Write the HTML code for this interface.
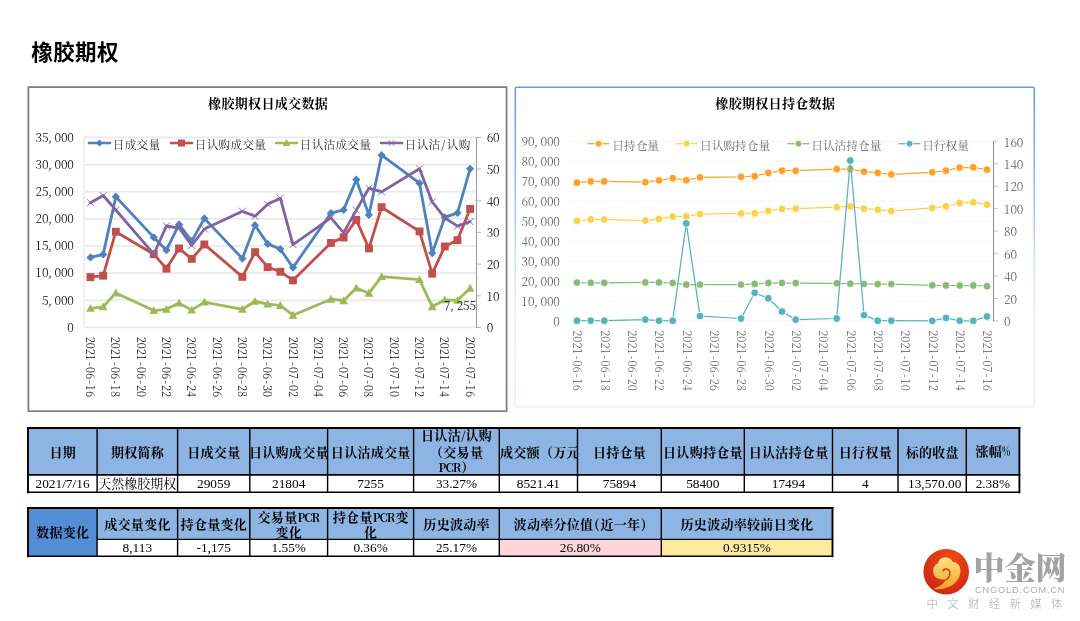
<!DOCTYPE html><html lang="zh-CN"><head><meta charset="utf-8"><title>橡胶期权</title><style>
html,body{margin:0;padding:0;background:#fff}
body{width:1080px;height:621px;position:relative;overflow:hidden;font-family:"Liberation Serif","Noto Serif CJK SC",serif}
.cv{position:absolute;left:0;top:0}
h1{position:absolute;left:31.2px;top:37.6px;margin:0;font:700 21.5px/30px "Liberation Sans","Noto Sans CJK SC",sans-serif;color:#000;letter-spacing:0.45px}
.n1{font-family:"Noto Serif CJK SC","Liberation Serif",serif;font-weight:300;font-size:12px;fill:#000}
.n2{font-family:"Noto Serif CJK SC","Liberation Serif",serif;font-weight:300;font-size:12px;fill:#595959}
.c{position:absolute;box-sizing:border-box;border:0;padding:0 0.7px;overflow:hidden;display:flex;align-items:center;justify-content:center;text-align:center;white-space:nowrap;color:#000}
.h{background:#8db4e2;font:700 13px/15.6px "Noto Serif CJK SC","Liberation Serif",serif}
.h2{background:#8db4e2;font:700 13px/14.6px "Noto Serif CJK SC","Liberation Serif",serif}
.hd{background:#538dd5;padding-top:0 !important}
.h2{padding-top:2px}
.t{display:block}
.h .t,.h2 .t{letter-spacing:0.3px;margin-right:-0.3px}
.lt{font-size:11.5px;letter-spacing:-0.9px;margin-right:0.9px}
.pc{display:inline-block;font-size:12.5px;letter-spacing:0;transform:scaleX(.68);transform-origin:0 50%;margin-right:-3.6px}
.lp{display:inline-block;width:7px;text-align:center}
.v{background:#fff;font:13.33px/16px "Liberation Serif","Noto Serif CJK SC",serif}
.l{justify-content:flex-start}
.pk{background:#fdd5da}.yl{background:#fdeb9e}

</style></head><body>
<h1>橡胶期权</h1>
<svg class="cv" width="1080" height="621" viewBox="0 0 1080 621">
<rect x="28.4" y="87.1" width="478.2" height="324.1" fill="#fff" stroke="#7a7a7a" stroke-width="1.7"/>
<text x="268.1" y="108" text-anchor="middle" font-family='"Noto Serif CJK SC","Liberation Serif",serif' font-weight="700" font-size="13" letter-spacing="0.33" fill="#000">橡胶期权日成交数据</text>
<line x1="84" x2="477" y1="327.4" y2="327.4" stroke="#e9e9e9" stroke-width="1.7"/>
<line x1="84" x2="477" y1="300.3" y2="300.3" stroke="#e9e9e9" stroke-width="1.7"/>
<line x1="84" x2="477" y1="273.1" y2="273.1" stroke="#e9e9e9" stroke-width="1.7"/>
<line x1="84" x2="477" y1="246.0" y2="246.0" stroke="#e9e9e9" stroke-width="1.7"/>
<line x1="84" x2="477" y1="218.8" y2="218.8" stroke="#e9e9e9" stroke-width="1.7"/>
<line x1="84" x2="477" y1="191.7" y2="191.7" stroke="#e9e9e9" stroke-width="1.7"/>
<line x1="84" x2="477" y1="164.6" y2="164.6" stroke="#e9e9e9" stroke-width="1.7"/>
<line x1="84" x2="477" y1="137.4" y2="137.4" stroke="#e9e9e9" stroke-width="1.7"/>
<line x1="84.1" x2="84.1" y1="136.5" y2="328" stroke="#f0f0f0" stroke-width="2.1"/>
<line x1="476.5" x2="476.5" y1="137" y2="328" stroke="#9a9a9a" stroke-width="1"/>
<line x1="477" x2="481" y1="327.4" y2="327.4" stroke="#b5b5b5" stroke-width="1"/>
<line x1="477" x2="481" y1="295.8" y2="295.8" stroke="#b5b5b5" stroke-width="1"/>
<line x1="477" x2="481" y1="264.1" y2="264.1" stroke="#b5b5b5" stroke-width="1"/>
<line x1="477" x2="481" y1="232.4" y2="232.4" stroke="#b5b5b5" stroke-width="1"/>
<line x1="477" x2="481" y1="200.8" y2="200.8" stroke="#b5b5b5" stroke-width="1"/>
<line x1="477" x2="481" y1="169.1" y2="169.1" stroke="#b5b5b5" stroke-width="1"/>
<line x1="477" x2="481" y1="137.4" y2="137.4" stroke="#b5b5b5" stroke-width="1"/>
<text class="n1" x="67.3" y="331.8">0</text>
<text class="n1" x="42.0 48.0 54.6 60.9 67.3" y="304.6">5,000</text>
<text class="n1" x="35.6 41.9 48.0 54.6 60.9 67.3" y="277.4">10,000</text>
<text class="n1" x="35.6 41.9 48.0 54.6 60.9 67.3" y="250.3">15,000</text>
<text class="n1" x="35.6 41.9 48.0 54.6 60.9 67.3" y="223.2">20,000</text>
<text class="n1" x="35.6 41.9 48.0 54.6 60.9 67.3" y="196.0">25,000</text>
<text class="n1" x="35.6 41.9 48.0 54.6 60.9 67.3" y="168.9">30,000</text>
<text class="n1" x="35.6 41.9 48.0 54.6 60.9 67.3" y="141.7">35,000</text>
<text class="n1" x="486.8" y="332.4">0</text>
<text class="n1" x="486.8 493.1" y="300.8">10</text>
<text class="n1" x="486.8 493.1" y="269.1">20</text>
<text class="n1" x="486.8 493.1" y="237.4">30</text>
<text class="n1" x="486.8 493.1" y="205.8">40</text>
<text class="n1" x="486.8 493.1" y="174.1">50</text>
<text class="n1" x="486.8 493.1" y="142.4">60</text>
<text class="n1" transform="translate(86.0,336.8) rotate(90) scale(0.93,1)" x="-0.1 6.4 12.9 19.4 27.2 32.4 38.9 46.7 51.9 58.4">2021-06-16</text>
<text class="n1" transform="translate(111.3,336.8) rotate(90) scale(0.93,1)" x="-0.1 6.4 12.9 19.4 27.2 32.4 38.9 46.7 51.9 58.4">2021-06-18</text>
<text class="n1" transform="translate(136.6,336.8) rotate(90) scale(0.93,1)" x="-0.1 6.4 12.9 19.4 27.2 32.4 38.9 46.7 51.9 58.4">2021-06-20</text>
<text class="n1" transform="translate(161.9,336.8) rotate(90) scale(0.93,1)" x="-0.1 6.4 12.9 19.4 27.2 32.4 38.9 46.7 51.9 58.4">2021-06-22</text>
<text class="n1" transform="translate(187.2,336.8) rotate(90) scale(0.93,1)" x="-0.1 6.4 12.9 19.4 27.2 32.4 38.9 46.7 51.9 58.4">2021-06-24</text>
<text class="n1" transform="translate(212.6,336.8) rotate(90) scale(0.93,1)" x="-0.1 6.4 12.9 19.4 27.2 32.4 38.9 46.7 51.9 58.4">2021-06-26</text>
<text class="n1" transform="translate(237.9,336.8) rotate(90) scale(0.93,1)" x="-0.1 6.4 12.9 19.4 27.2 32.4 38.9 46.7 51.9 58.4">2021-06-28</text>
<text class="n1" transform="translate(263.2,336.8) rotate(90) scale(0.93,1)" x="-0.1 6.4 12.9 19.4 27.2 32.4 38.9 46.7 51.9 58.4">2021-06-30</text>
<text class="n1" transform="translate(288.5,336.8) rotate(90) scale(0.93,1)" x="-0.1 6.4 12.9 19.4 27.2 32.4 38.9 46.7 51.9 58.4">2021-07-02</text>
<text class="n1" transform="translate(313.8,336.8) rotate(90) scale(0.93,1)" x="-0.1 6.4 12.9 19.4 27.2 32.4 38.9 46.7 51.9 58.4">2021-07-04</text>
<text class="n1" transform="translate(339.1,336.8) rotate(90) scale(0.93,1)" x="-0.1 6.4 12.9 19.4 27.2 32.4 38.9 46.7 51.9 58.4">2021-07-06</text>
<text class="n1" transform="translate(364.4,336.8) rotate(90) scale(0.93,1)" x="-0.1 6.4 12.9 19.4 27.2 32.4 38.9 46.7 51.9 58.4">2021-07-08</text>
<text class="n1" transform="translate(389.7,336.8) rotate(90) scale(0.93,1)" x="-0.1 6.4 12.9 19.4 27.2 32.4 38.9 46.7 51.9 58.4">2021-07-10</text>
<text class="n1" transform="translate(415.0,336.8) rotate(90) scale(0.93,1)" x="-0.1 6.4 12.9 19.4 27.2 32.4 38.9 46.7 51.9 58.4">2021-07-12</text>
<text class="n1" transform="translate(440.3,336.8) rotate(90) scale(0.93,1)" x="-0.1 6.4 12.9 19.4 27.2 32.4 38.9 46.7 51.9 58.4">2021-07-14</text>
<text class="n1" transform="translate(465.6,336.8) rotate(90) scale(0.93,1)" x="-0.1 6.4 12.9 19.4 27.2 32.4 38.9 46.7 51.9 58.4">2021-07-16</text>
<polyline points="90.5,257.4 103.2,254.4 115.8,196.7 153.8,237.4 166.4,250.2 179.1,224.4 191.7,241.2 204.4,218.4 242.4,258.6 255.0,225.2 267.7,243.9 280.3,249.1 293.0,267.6 330.9,213.1 343.6,209.9 356.3,179.7 368.9,214.9 381.6,155.2 419.5,183.2 432.2,253.1 444.8,217.4 457.5,212.9 470.1,168.8" fill="none" stroke="#4f81bd" stroke-width="2.8" stroke-linejoin="round" stroke-linecap="round"/>
<path d="M90.5 253.3L94.6 257.4L90.5 261.5L86.4 257.4Z" fill="#4f81bd"/>
<path d="M103.2 250.3L107.3 254.4L103.2 258.5L99.1 254.4Z" fill="#4f81bd"/>
<path d="M115.8 192.6L119.9 196.7L115.8 200.8L111.7 196.7Z" fill="#4f81bd"/>
<path d="M153.8 233.3L157.9 237.4L153.8 241.5L149.7 237.4Z" fill="#4f81bd"/>
<path d="M166.4 246.1L170.5 250.2L166.4 254.3L162.3 250.2Z" fill="#4f81bd"/>
<path d="M179.1 220.3L183.2 224.4L179.1 228.5L175.0 224.4Z" fill="#4f81bd"/>
<path d="M191.7 237.1L195.8 241.2L191.7 245.3L187.6 241.2Z" fill="#4f81bd"/>
<path d="M204.4 214.3L208.5 218.4L204.4 222.5L200.3 218.4Z" fill="#4f81bd"/>
<path d="M242.4 254.5L246.5 258.6L242.4 262.7L238.3 258.6Z" fill="#4f81bd"/>
<path d="M255.0 221.1L259.1 225.2L255.0 229.3L250.9 225.2Z" fill="#4f81bd"/>
<path d="M267.7 239.8L271.8 243.9L267.7 248.0L263.6 243.9Z" fill="#4f81bd"/>
<path d="M280.3 245.0L284.4 249.1L280.3 253.2L276.2 249.1Z" fill="#4f81bd"/>
<path d="M293.0 263.5L297.1 267.6L293.0 271.7L288.9 267.6Z" fill="#4f81bd"/>
<path d="M330.9 209.0L335.0 213.1L330.9 217.2L326.8 213.1Z" fill="#4f81bd"/>
<path d="M343.6 205.8L347.7 209.9L343.6 214.0L339.5 209.9Z" fill="#4f81bd"/>
<path d="M356.3 175.6L360.4 179.7L356.3 183.8L352.2 179.7Z" fill="#4f81bd"/>
<path d="M368.9 210.8L373.0 214.9L368.9 219.0L364.8 214.9Z" fill="#4f81bd"/>
<path d="M381.6 151.1L385.7 155.2L381.6 159.3L377.5 155.2Z" fill="#4f81bd"/>
<path d="M419.5 179.1L423.6 183.2L419.5 187.3L415.4 183.2Z" fill="#4f81bd"/>
<path d="M432.2 249.0L436.3 253.1L432.2 257.2L428.1 253.1Z" fill="#4f81bd"/>
<path d="M444.8 213.3L448.9 217.4L444.8 221.5L440.7 217.4Z" fill="#4f81bd"/>
<path d="M457.5 208.8L461.6 212.9L457.5 217.0L453.4 212.9Z" fill="#4f81bd"/>
<path d="M470.1 164.7L474.2 168.8L470.1 172.9L466.0 168.8Z" fill="#4f81bd"/>
<polyline points="90.5,277.1 103.2,275.6 115.8,231.7 153.8,254.2 166.4,268.6 179.1,248.4 191.7,258.9 204.4,244.4 242.4,276.9 255.0,252.2 267.7,267.1 280.3,271.7 293.0,280.3 330.9,242.9 343.6,237.4 356.3,219.9 368.9,248.4 381.6,207.2 419.5,231.4 432.2,273.6 444.8,246.4 457.5,240.1 470.1,208.9" fill="none" stroke="#c0504d" stroke-width="2.8" stroke-linejoin="round" stroke-linecap="round"/>
<rect x="86.5" y="273.2" width="7.9" height="7.9" fill="#c0504d"/>
<rect x="99.2" y="271.7" width="7.9" height="7.9" fill="#c0504d"/>
<rect x="111.9" y="227.8" width="7.9" height="7.9" fill="#c0504d"/>
<rect x="149.8" y="250.2" width="7.9" height="7.9" fill="#c0504d"/>
<rect x="162.5" y="264.7" width="7.9" height="7.9" fill="#c0504d"/>
<rect x="175.1" y="244.5" width="7.9" height="7.9" fill="#c0504d"/>
<rect x="187.8" y="254.9" width="7.9" height="7.9" fill="#c0504d"/>
<rect x="200.4" y="240.5" width="7.9" height="7.9" fill="#c0504d"/>
<rect x="238.4" y="272.9" width="7.9" height="7.9" fill="#c0504d"/>
<rect x="251.1" y="248.2" width="7.9" height="7.9" fill="#c0504d"/>
<rect x="263.7" y="263.2" width="7.9" height="7.9" fill="#c0504d"/>
<rect x="276.4" y="267.8" width="7.9" height="7.9" fill="#c0504d"/>
<rect x="289.0" y="276.4" width="7.9" height="7.9" fill="#c0504d"/>
<rect x="327.0" y="239.0" width="7.9" height="7.9" fill="#c0504d"/>
<rect x="339.7" y="233.5" width="7.9" height="7.9" fill="#c0504d"/>
<rect x="352.3" y="216.0" width="7.9" height="7.9" fill="#c0504d"/>
<rect x="365.0" y="244.5" width="7.9" height="7.9" fill="#c0504d"/>
<rect x="377.6" y="203.2" width="7.9" height="7.9" fill="#c0504d"/>
<rect x="415.6" y="227.5" width="7.9" height="7.9" fill="#c0504d"/>
<rect x="428.2" y="269.7" width="7.9" height="7.9" fill="#c0504d"/>
<rect x="440.9" y="242.5" width="7.9" height="7.9" fill="#c0504d"/>
<rect x="453.5" y="236.2" width="7.9" height="7.9" fill="#c0504d"/>
<rect x="466.2" y="205.0" width="7.9" height="7.9" fill="#c0504d"/>
<polyline points="90.5,308.3 103.2,306.8 115.8,292.9 153.8,310.6 166.4,309.3 179.1,303.1 191.7,310.1 204.4,302.1 242.4,309.3 255.0,301.3 267.7,304.1 280.3,305.4 293.0,315.2 330.9,299.2 343.6,300.7 356.3,288.1 368.9,293.2 381.6,276.6 419.5,279.6 432.2,306.7 444.8,299.8 457.5,300.3 470.1,288.2" fill="none" stroke="#9bbb59" stroke-width="2.8" stroke-linejoin="round" stroke-linecap="round"/>
<path d="M90.5 303.9L94.9 311.8L86.1 311.8Z" fill="#9bbb59"/>
<path d="M103.2 302.4L107.6 310.3L98.8 310.3Z" fill="#9bbb59"/>
<path d="M115.8 288.5L120.2 296.4L111.4 296.4Z" fill="#9bbb59"/>
<path d="M153.8 306.2L158.2 314.1L149.4 314.1Z" fill="#9bbb59"/>
<path d="M166.4 304.9L170.8 312.8L162.0 312.8Z" fill="#9bbb59"/>
<path d="M179.1 298.7L183.5 306.6L174.7 306.6Z" fill="#9bbb59"/>
<path d="M191.7 305.7L196.1 313.6L187.3 313.6Z" fill="#9bbb59"/>
<path d="M204.4 297.7L208.8 305.6L200.0 305.6Z" fill="#9bbb59"/>
<path d="M242.4 304.9L246.8 312.8L238.0 312.8Z" fill="#9bbb59"/>
<path d="M255.0 296.9L259.4 304.8L250.6 304.8Z" fill="#9bbb59"/>
<path d="M267.7 299.7L272.1 307.6L263.3 307.6Z" fill="#9bbb59"/>
<path d="M280.3 301.0L284.7 308.9L275.9 308.9Z" fill="#9bbb59"/>
<path d="M293.0 310.8L297.4 318.7L288.6 318.7Z" fill="#9bbb59"/>
<path d="M330.9 294.8L335.3 302.7L326.5 302.7Z" fill="#9bbb59"/>
<path d="M343.6 296.3L348.0 304.2L339.2 304.2Z" fill="#9bbb59"/>
<path d="M356.3 283.7L360.7 291.6L351.9 291.6Z" fill="#9bbb59"/>
<path d="M368.9 288.8L373.3 296.7L364.5 296.7Z" fill="#9bbb59"/>
<path d="M381.6 272.2L386.0 280.1L377.2 280.1Z" fill="#9bbb59"/>
<path d="M419.5 275.2L423.9 283.1L415.1 283.1Z" fill="#9bbb59"/>
<path d="M432.2 302.3L436.6 310.2L427.8 310.2Z" fill="#9bbb59"/>
<path d="M444.8 295.4L449.2 303.3L440.4 303.3Z" fill="#9bbb59"/>
<path d="M457.5 295.9L461.9 303.8L453.1 303.8Z" fill="#9bbb59"/>
<path d="M470.1 283.8L474.5 291.7L465.8 291.7Z" fill="#9bbb59"/>
<polyline points="90.5,202.7 103.2,195.5 115.8,210.0 153.8,254.2 166.4,226.0 179.1,228.0 191.7,245.5 204.4,229.0 242.4,211.2 255.0,216.2 267.7,204.2 280.3,198.2 293.0,244.6 330.9,217.9 343.6,232.6 356.3,210.1 368.9,188.2 381.6,191.9 419.5,168.7 432.2,201.9 444.8,217.9 457.5,226.1 470.1,221.7" fill="none" stroke="#8064a2" stroke-width="2.8" stroke-linejoin="round" stroke-linecap="round"/>
<path d="M87.0 199.2L94.0 206.2M87.0 206.2L94.0 199.2" stroke="#8064a2" stroke-width="0.9" fill="none"/>
<path d="M99.7 192.0L106.7 199.0M99.7 199.0L106.7 192.0" stroke="#8064a2" stroke-width="0.9" fill="none"/>
<path d="M112.3 206.5L119.3 213.5M112.3 213.5L119.3 206.5" stroke="#8064a2" stroke-width="0.9" fill="none"/>
<path d="M150.3 250.7L157.3 257.7M150.3 257.7L157.3 250.7" stroke="#8064a2" stroke-width="0.9" fill="none"/>
<path d="M162.9 222.5L169.9 229.5M162.9 229.5L169.9 222.5" stroke="#8064a2" stroke-width="0.9" fill="none"/>
<path d="M175.6 224.5L182.6 231.5M175.6 231.5L182.6 224.5" stroke="#8064a2" stroke-width="0.9" fill="none"/>
<path d="M188.2 242.0L195.2 249.0M188.2 249.0L195.2 242.0" stroke="#8064a2" stroke-width="0.9" fill="none"/>
<path d="M200.9 225.5L207.9 232.5M200.9 232.5L207.9 225.5" stroke="#8064a2" stroke-width="0.9" fill="none"/>
<path d="M238.9 207.7L245.9 214.7M238.9 214.7L245.9 207.7" stroke="#8064a2" stroke-width="0.9" fill="none"/>
<path d="M251.5 212.7L258.5 219.7M251.5 219.7L258.5 212.7" stroke="#8064a2" stroke-width="0.9" fill="none"/>
<path d="M264.2 200.7L271.2 207.7M264.2 207.7L271.2 200.7" stroke="#8064a2" stroke-width="0.9" fill="none"/>
<path d="M276.8 194.7L283.8 201.7M276.8 201.7L283.8 194.7" stroke="#8064a2" stroke-width="0.9" fill="none"/>
<path d="M289.5 241.1L296.5 248.1M289.5 248.1L296.5 241.1" stroke="#8064a2" stroke-width="0.9" fill="none"/>
<path d="M327.4 214.4L334.4 221.4M327.4 221.4L334.4 214.4" stroke="#8064a2" stroke-width="0.9" fill="none"/>
<path d="M340.1 229.1L347.1 236.1M340.1 236.1L347.1 229.1" stroke="#8064a2" stroke-width="0.9" fill="none"/>
<path d="M352.8 206.6L359.8 213.6M352.8 213.6L359.8 206.6" stroke="#8064a2" stroke-width="0.9" fill="none"/>
<path d="M365.4 184.7L372.4 191.7M365.4 191.7L372.4 184.7" stroke="#8064a2" stroke-width="0.9" fill="none"/>
<path d="M378.1 188.4L385.1 195.4M378.1 195.4L385.1 188.4" stroke="#8064a2" stroke-width="0.9" fill="none"/>
<path d="M416.0 165.2L423.0 172.2M416.0 172.2L423.0 165.2" stroke="#8064a2" stroke-width="0.9" fill="none"/>
<path d="M428.7 198.4L435.7 205.4M428.7 205.4L435.7 198.4" stroke="#8064a2" stroke-width="0.9" fill="none"/>
<path d="M441.3 214.4L448.3 221.4M441.3 221.4L448.3 214.4" stroke="#8064a2" stroke-width="0.9" fill="none"/>
<path d="M454.0 222.6L461.0 229.6M454.0 229.6L461.0 222.6" stroke="#8064a2" stroke-width="0.9" fill="none"/>
<path d="M466.6 218.2L473.6 225.2M466.6 225.2L473.6 218.2" stroke="#8064a2" stroke-width="0.9" fill="none"/>
<text class="n1" x="444.1 450.1 456.8 463.1 469.4" y="310.2">7,255</text>
<line x1="89.0" x2="110.0" y1="143" y2="143" stroke="#4f81bd" stroke-width="2.6" stroke-linecap="round"/>
<path d="M99.5 139.4L103.1 143.0L99.5 146.6L95.9 143.0Z" fill="#4f81bd"/>
<text x="112.8" y="149.3" font-family='"Noto Serif CJK SC","Liberation Serif",serif' font-weight="300" font-size="11.6" letter-spacing="0.3" fill="#000">日成交量</text>
<line x1="171.0" x2="192.0" y1="143" y2="143" stroke="#c0504d" stroke-width="2.6" stroke-linecap="round"/>
<rect x="178.0" y="139.5" width="7.0" height="7.0" fill="#c0504d"/>
<text x="194.8" y="149.3" font-family='"Noto Serif CJK SC","Liberation Serif",serif' font-weight="300" font-size="11.6" letter-spacing="0.3" fill="#000">日认购成交量</text>
<line x1="276.0" x2="297.0" y1="143" y2="143" stroke="#9bbb59" stroke-width="2.6" stroke-linecap="round"/>
<path d="M286.5 139.1L290.4 146.1L282.6 146.1Z" fill="#9bbb59"/>
<text x="299.8" y="149.3" font-family='"Noto Serif CJK SC","Liberation Serif",serif' font-weight="300" font-size="11.6" letter-spacing="0.3" fill="#000">日认沽成交量</text>
<line x1="381.0" x2="402.0" y1="143" y2="143" stroke="#8064a2" stroke-width="2.6" stroke-linecap="round"/>
<path d="M388.5 140.0L394.5 146.0M388.5 146.0L394.5 140.0" stroke="#8064a2" stroke-width="0.9" fill="none"/>
<text x="404.8" y="149.3" font-family='"Noto Serif CJK SC","Liberation Serif",serif' font-weight="300" font-size="11.6" letter-spacing="0.3" dx="0 0 0 0.8 1.2 0" fill="#000">日认沽/认购</text>
<defs><linearGradient id="bg2" x1="0" y1="0" x2="0" y2="1"><stop offset="0" stop-color="#5b9cf8"/><stop offset="0.26" stop-color="#8ab8f8"/><stop offset="0.45" stop-color="#b5d0f8"/><stop offset="0.52" stop-color="#d0dff8"/><stop offset="0.63" stop-color="#e6e4f8"/><stop offset="0.71" stop-color="#f8e6f6"/><stop offset="1" stop-color="#fde8f4"/></linearGradient></defs>
<rect x="515.3" y="87.3" width="519" height="319.5" rx="1.5" fill="#fff" stroke="url(#bg2)" stroke-width="1.6"/>
<text x="775.3" y="108" text-anchor="middle" font-family='"Noto Serif CJK SC","Liberation Serif",serif' font-weight="700" font-size="13" letter-spacing="0.33" fill="#000">橡胶期权日持仓数据</text>
<line x1="570.5" x2="994" y1="320.9" y2="320.9" stroke="#f5f5f5" stroke-width="1"/>
<line x1="570.5" x2="994" y1="300.9" y2="300.9" stroke="#f5f5f5" stroke-width="1"/>
<line x1="570.5" x2="994" y1="281.0" y2="281.0" stroke="#f5f5f5" stroke-width="1"/>
<line x1="570.5" x2="994" y1="261.0" y2="261.0" stroke="#f5f5f5" stroke-width="1"/>
<line x1="570.5" x2="994" y1="241.1" y2="241.1" stroke="#f5f5f5" stroke-width="1"/>
<line x1="570.5" x2="994" y1="221.1" y2="221.1" stroke="#f5f5f5" stroke-width="1"/>
<line x1="570.5" x2="994" y1="201.2" y2="201.2" stroke="#f5f5f5" stroke-width="1"/>
<line x1="570.5" x2="994" y1="181.2" y2="181.2" stroke="#f5f5f5" stroke-width="1"/>
<line x1="570.5" x2="994" y1="161.3" y2="161.3" stroke="#f5f5f5" stroke-width="1"/>
<line x1="570.5" x2="994" y1="141.3" y2="141.3" stroke="#f5f5f5" stroke-width="1"/>
<line x1="993.5" x2="993.5" y1="141" y2="321.4" stroke="#8c8c8c" stroke-width="1"/>
<line x1="994" x2="998" y1="320.9" y2="320.9" stroke="#c8c8c8" stroke-width="1"/>
<text class="n2" x="1004.1" y="326.1">0</text>
<line x1="994" x2="998" y1="298.5" y2="298.5" stroke="#c8c8c8" stroke-width="1"/>
<text class="n2" x="1004.1 1010.4" y="303.7">20</text>
<line x1="994" x2="998" y1="276.0" y2="276.0" stroke="#c8c8c8" stroke-width="1"/>
<text class="n2" x="1004.1 1010.4" y="281.2">40</text>
<line x1="994" x2="998" y1="253.6" y2="253.6" stroke="#c8c8c8" stroke-width="1"/>
<text class="n2" x="1004.1 1010.4" y="258.8">60</text>
<line x1="994" x2="998" y1="231.1" y2="231.1" stroke="#c8c8c8" stroke-width="1"/>
<text class="n2" x="1004.1 1010.4" y="236.3">80</text>
<line x1="994" x2="998" y1="208.7" y2="208.7" stroke="#c8c8c8" stroke-width="1"/>
<text class="n2" x="1004.1 1010.4 1016.8" y="213.9">100</text>
<line x1="994" x2="998" y1="186.2" y2="186.2" stroke="#c8c8c8" stroke-width="1"/>
<text class="n2" x="1004.1 1010.4 1016.8" y="191.4">120</text>
<line x1="994" x2="998" y1="163.8" y2="163.8" stroke="#c8c8c8" stroke-width="1"/>
<text class="n2" x="1004.1 1010.4 1016.8" y="169.0">140</text>
<line x1="994" x2="998" y1="141.3" y2="141.3" stroke="#c8c8c8" stroke-width="1"/>
<text class="n2" x="1004.1 1010.4 1016.8" y="146.5">160</text>
<text class="n2" x="553.3" y="326.0">0</text>
<text class="n2" x="521.6 528.0 534.0 540.6 546.9 553.3" y="306.0">10,000</text>
<text class="n2" x="521.6 528.0 534.0 540.6 546.9 553.3" y="286.1">20,000</text>
<text class="n2" x="521.6 528.0 534.0 540.6 546.9 553.3" y="266.1">30,000</text>
<text class="n2" x="521.6 528.0 534.0 540.6 546.9 553.3" y="246.2">40,000</text>
<text class="n2" x="521.6 528.0 534.0 540.6 546.9 553.3" y="226.2">50,000</text>
<text class="n2" x="521.6 528.0 534.0 540.6 546.9 553.3" y="206.3">60,000</text>
<text class="n2" x="521.6 528.0 534.0 540.6 546.9 553.3" y="186.3">70,000</text>
<text class="n2" x="521.6 528.0 534.0 540.6 546.9 553.3" y="166.4">80,000</text>
<text class="n2" x="521.6 528.0 534.0 540.6 546.9 553.3" y="146.4">90,000</text>
<text class="n2" transform="translate(573.4,330.4) rotate(90) scale(0.93,1)" x="-0.1 6.4 12.9 19.4 27.2 32.4 38.9 46.7 51.9 58.4">2021-06-16</text>
<text class="n2" transform="translate(600.7,330.4) rotate(90) scale(0.93,1)" x="-0.1 6.4 12.9 19.4 27.2 32.4 38.9 46.7 51.9 58.4">2021-06-18</text>
<text class="n2" transform="translate(628.1,330.4) rotate(90) scale(0.93,1)" x="-0.1 6.4 12.9 19.4 27.2 32.4 38.9 46.7 51.9 58.4">2021-06-20</text>
<text class="n2" transform="translate(655.4,330.4) rotate(90) scale(0.93,1)" x="-0.1 6.4 12.9 19.4 27.2 32.4 38.9 46.7 51.9 58.4">2021-06-22</text>
<text class="n2" transform="translate(682.7,330.4) rotate(90) scale(0.93,1)" x="-0.1 6.4 12.9 19.4 27.2 32.4 38.9 46.7 51.9 58.4">2021-06-24</text>
<text class="n2" transform="translate(710.1,330.4) rotate(90) scale(0.93,1)" x="-0.1 6.4 12.9 19.4 27.2 32.4 38.9 46.7 51.9 58.4">2021-06-26</text>
<text class="n2" transform="translate(737.4,330.4) rotate(90) scale(0.93,1)" x="-0.1 6.4 12.9 19.4 27.2 32.4 38.9 46.7 51.9 58.4">2021-06-28</text>
<text class="n2" transform="translate(764.7,330.4) rotate(90) scale(0.93,1)" x="-0.1 6.4 12.9 19.4 27.2 32.4 38.9 46.7 51.9 58.4">2021-06-30</text>
<text class="n2" transform="translate(792.1,330.4) rotate(90) scale(0.93,1)" x="-0.1 6.4 12.9 19.4 27.2 32.4 38.9 46.7 51.9 58.4">2021-07-02</text>
<text class="n2" transform="translate(819.4,330.4) rotate(90) scale(0.93,1)" x="-0.1 6.4 12.9 19.4 27.2 32.4 38.9 46.7 51.9 58.4">2021-07-04</text>
<text class="n2" transform="translate(846.7,330.4) rotate(90) scale(0.93,1)" x="-0.1 6.4 12.9 19.4 27.2 32.4 38.9 46.7 51.9 58.4">2021-07-06</text>
<text class="n2" transform="translate(874.1,330.4) rotate(90) scale(0.93,1)" x="-0.1 6.4 12.9 19.4 27.2 32.4 38.9 46.7 51.9 58.4">2021-07-08</text>
<text class="n2" transform="translate(901.4,330.4) rotate(90) scale(0.93,1)" x="-0.1 6.4 12.9 19.4 27.2 32.4 38.9 46.7 51.9 58.4">2021-07-10</text>
<text class="n2" transform="translate(928.7,330.4) rotate(90) scale(0.93,1)" x="-0.1 6.4 12.9 19.4 27.2 32.4 38.9 46.7 51.9 58.4">2021-07-12</text>
<text class="n2" transform="translate(956.1,330.4) rotate(90) scale(0.93,1)" x="-0.1 6.4 12.9 19.4 27.2 32.4 38.9 46.7 51.9 58.4">2021-07-14</text>
<text class="n2" transform="translate(983.4,330.4) rotate(90) scale(0.93,1)" x="-0.1 6.4 12.9 19.4 27.2 32.4 38.9 46.7 51.9 58.4">2021-07-16</text>
<polyline points="577.0,182.7 590.7,181.4 604.3,181.4 645.3,182.2 659.0,180.4 672.7,178.2 686.3,180.2 700.0,177.4 741.0,176.9 754.7,176.2 768.3,172.9 782.0,170.7 795.7,170.7 836.7,169.2 850.3,169.0 864.0,171.7 877.7,172.9 891.3,174.4 932.3,172.3 946.0,170.6 959.7,167.6 973.3,167.3 987.0,169.7" fill="none" stroke="#ffa126" stroke-width="1.25" stroke-linejoin="round"/>
<circle cx="577.0" cy="182.7" r="3.9" fill="#ffa126" stroke="#fff" stroke-width="0.9"/>
<circle cx="590.7" cy="181.4" r="3.9" fill="#ffa126" stroke="#fff" stroke-width="0.9"/>
<circle cx="604.3" cy="181.4" r="3.9" fill="#ffa126" stroke="#fff" stroke-width="0.9"/>
<circle cx="645.3" cy="182.2" r="3.9" fill="#ffa126" stroke="#fff" stroke-width="0.9"/>
<circle cx="659.0" cy="180.4" r="3.9" fill="#ffa126" stroke="#fff" stroke-width="0.9"/>
<circle cx="672.7" cy="178.2" r="3.9" fill="#ffa126" stroke="#fff" stroke-width="0.9"/>
<circle cx="686.3" cy="180.2" r="3.9" fill="#ffa126" stroke="#fff" stroke-width="0.9"/>
<circle cx="700.0" cy="177.4" r="3.9" fill="#ffa126" stroke="#fff" stroke-width="0.9"/>
<circle cx="741.0" cy="176.9" r="3.9" fill="#ffa126" stroke="#fff" stroke-width="0.9"/>
<circle cx="754.7" cy="176.2" r="3.9" fill="#ffa126" stroke="#fff" stroke-width="0.9"/>
<circle cx="768.3" cy="172.9" r="3.9" fill="#ffa126" stroke="#fff" stroke-width="0.9"/>
<circle cx="782.0" cy="170.7" r="3.9" fill="#ffa126" stroke="#fff" stroke-width="0.9"/>
<circle cx="795.7" cy="170.7" r="3.9" fill="#ffa126" stroke="#fff" stroke-width="0.9"/>
<circle cx="836.7" cy="169.2" r="3.9" fill="#ffa126" stroke="#fff" stroke-width="0.9"/>
<circle cx="850.3" cy="169.0" r="3.9" fill="#ffa126" stroke="#fff" stroke-width="0.9"/>
<circle cx="864.0" cy="171.7" r="3.9" fill="#ffa126" stroke="#fff" stroke-width="0.9"/>
<circle cx="877.7" cy="172.9" r="3.9" fill="#ffa126" stroke="#fff" stroke-width="0.9"/>
<circle cx="891.3" cy="174.4" r="3.9" fill="#ffa126" stroke="#fff" stroke-width="0.9"/>
<circle cx="932.3" cy="172.3" r="3.9" fill="#ffa126" stroke="#fff" stroke-width="0.9"/>
<circle cx="946.0" cy="170.6" r="3.9" fill="#ffa126" stroke="#fff" stroke-width="0.9"/>
<circle cx="959.7" cy="167.6" r="3.9" fill="#ffa126" stroke="#fff" stroke-width="0.9"/>
<circle cx="973.3" cy="167.3" r="3.9" fill="#ffa126" stroke="#fff" stroke-width="0.9"/>
<circle cx="987.0" cy="169.7" r="3.9" fill="#ffa126" stroke="#fff" stroke-width="0.9"/>
<polyline points="577.0,220.9 590.7,219.4 604.3,219.4 645.3,220.6 659.0,218.9 672.7,216.6 686.3,216.4 700.0,214.1 741.0,213.4 754.7,213.4 768.3,210.9 782.0,208.9 795.7,208.7 836.7,207.2 850.3,206.4 864.0,208.7 877.7,209.7 891.3,211.1 932.3,207.9 946.0,206.3 959.7,203.0 973.3,202.3 987.0,204.6" fill="none" stroke="#ffd04c" stroke-width="1.25" stroke-linejoin="round"/>
<circle cx="577.0" cy="220.9" r="3.9" fill="#ffd04c" stroke="#fff" stroke-width="0.9"/>
<circle cx="590.7" cy="219.4" r="3.9" fill="#ffd04c" stroke="#fff" stroke-width="0.9"/>
<circle cx="604.3" cy="219.4" r="3.9" fill="#ffd04c" stroke="#fff" stroke-width="0.9"/>
<circle cx="645.3" cy="220.6" r="3.9" fill="#ffd04c" stroke="#fff" stroke-width="0.9"/>
<circle cx="659.0" cy="218.9" r="3.9" fill="#ffd04c" stroke="#fff" stroke-width="0.9"/>
<circle cx="672.7" cy="216.6" r="3.9" fill="#ffd04c" stroke="#fff" stroke-width="0.9"/>
<circle cx="686.3" cy="216.4" r="3.9" fill="#ffd04c" stroke="#fff" stroke-width="0.9"/>
<circle cx="700.0" cy="214.1" r="3.9" fill="#ffd04c" stroke="#fff" stroke-width="0.9"/>
<circle cx="741.0" cy="213.4" r="3.9" fill="#ffd04c" stroke="#fff" stroke-width="0.9"/>
<circle cx="754.7" cy="213.4" r="3.9" fill="#ffd04c" stroke="#fff" stroke-width="0.9"/>
<circle cx="768.3" cy="210.9" r="3.9" fill="#ffd04c" stroke="#fff" stroke-width="0.9"/>
<circle cx="782.0" cy="208.9" r="3.9" fill="#ffd04c" stroke="#fff" stroke-width="0.9"/>
<circle cx="795.7" cy="208.7" r="3.9" fill="#ffd04c" stroke="#fff" stroke-width="0.9"/>
<circle cx="836.7" cy="207.2" r="3.9" fill="#ffd04c" stroke="#fff" stroke-width="0.9"/>
<circle cx="850.3" cy="206.4" r="3.9" fill="#ffd04c" stroke="#fff" stroke-width="0.9"/>
<circle cx="864.0" cy="208.7" r="3.9" fill="#ffd04c" stroke="#fff" stroke-width="0.9"/>
<circle cx="877.7" cy="209.7" r="3.9" fill="#ffd04c" stroke="#fff" stroke-width="0.9"/>
<circle cx="891.3" cy="211.1" r="3.9" fill="#ffd04c" stroke="#fff" stroke-width="0.9"/>
<circle cx="932.3" cy="207.9" r="3.9" fill="#ffd04c" stroke="#fff" stroke-width="0.9"/>
<circle cx="946.0" cy="206.3" r="3.9" fill="#ffd04c" stroke="#fff" stroke-width="0.9"/>
<circle cx="959.7" cy="203.0" r="3.9" fill="#ffd04c" stroke="#fff" stroke-width="0.9"/>
<circle cx="973.3" cy="202.3" r="3.9" fill="#ffd04c" stroke="#fff" stroke-width="0.9"/>
<circle cx="987.0" cy="204.6" r="3.9" fill="#ffd04c" stroke="#fff" stroke-width="0.9"/>
<polyline points="577.0,282.6 590.7,282.8 604.3,282.8 645.3,282.4 659.0,282.4 672.7,283.0 686.3,284.6 700.0,284.6 741.0,284.6 754.7,283.9 768.3,283.0 782.0,283.0 795.7,283.1 836.7,283.3 850.3,283.7 864.0,283.9 877.7,284.1 891.3,284.1 932.3,285.3 946.0,285.5 959.7,285.5 973.3,285.5 987.0,286.2" fill="none" stroke="#8abb76" stroke-width="1.25" stroke-linejoin="round"/>
<circle cx="577.0" cy="282.6" r="3.9" fill="#8abb76" stroke="#fff" stroke-width="0.9"/>
<circle cx="590.7" cy="282.8" r="3.9" fill="#8abb76" stroke="#fff" stroke-width="0.9"/>
<circle cx="604.3" cy="282.8" r="3.9" fill="#8abb76" stroke="#fff" stroke-width="0.9"/>
<circle cx="645.3" cy="282.4" r="3.9" fill="#8abb76" stroke="#fff" stroke-width="0.9"/>
<circle cx="659.0" cy="282.4" r="3.9" fill="#8abb76" stroke="#fff" stroke-width="0.9"/>
<circle cx="672.7" cy="283.0" r="3.9" fill="#8abb76" stroke="#fff" stroke-width="0.9"/>
<circle cx="686.3" cy="284.6" r="3.9" fill="#8abb76" stroke="#fff" stroke-width="0.9"/>
<circle cx="700.0" cy="284.6" r="3.9" fill="#8abb76" stroke="#fff" stroke-width="0.9"/>
<circle cx="741.0" cy="284.6" r="3.9" fill="#8abb76" stroke="#fff" stroke-width="0.9"/>
<circle cx="754.7" cy="283.9" r="3.9" fill="#8abb76" stroke="#fff" stroke-width="0.9"/>
<circle cx="768.3" cy="283.0" r="3.9" fill="#8abb76" stroke="#fff" stroke-width="0.9"/>
<circle cx="782.0" cy="283.0" r="3.9" fill="#8abb76" stroke="#fff" stroke-width="0.9"/>
<circle cx="795.7" cy="283.1" r="3.9" fill="#8abb76" stroke="#fff" stroke-width="0.9"/>
<circle cx="836.7" cy="283.3" r="3.9" fill="#8abb76" stroke="#fff" stroke-width="0.9"/>
<circle cx="850.3" cy="283.7" r="3.9" fill="#8abb76" stroke="#fff" stroke-width="0.9"/>
<circle cx="864.0" cy="283.9" r="3.9" fill="#8abb76" stroke="#fff" stroke-width="0.9"/>
<circle cx="877.7" cy="284.1" r="3.9" fill="#8abb76" stroke="#fff" stroke-width="0.9"/>
<circle cx="891.3" cy="284.1" r="3.9" fill="#8abb76" stroke="#fff" stroke-width="0.9"/>
<circle cx="932.3" cy="285.3" r="3.9" fill="#8abb76" stroke="#fff" stroke-width="0.9"/>
<circle cx="946.0" cy="285.5" r="3.9" fill="#8abb76" stroke="#fff" stroke-width="0.9"/>
<circle cx="959.7" cy="285.5" r="3.9" fill="#8abb76" stroke="#fff" stroke-width="0.9"/>
<circle cx="973.3" cy="285.5" r="3.9" fill="#8abb76" stroke="#fff" stroke-width="0.9"/>
<circle cx="987.0" cy="286.2" r="3.9" fill="#8abb76" stroke="#fff" stroke-width="0.9"/>
<polyline points="577.0,320.7 590.7,320.7 604.3,320.7 645.3,319.6 659.0,320.7 672.7,320.7 686.3,223.4 700.0,316.1 741.0,318.5 754.7,292.8 768.3,298.3 782.0,311.5 795.7,319.6 836.7,318.5 850.3,160.5 864.0,315.2 877.7,320.7 891.3,320.7 932.3,320.8 946.0,317.9 959.7,320.8 973.3,320.8 987.0,316.5" fill="none" stroke="#55b3bb" stroke-width="1.25" stroke-linejoin="round"/>
<circle cx="577.0" cy="320.7" r="3.9" fill="#55b3bb" stroke="#fff" stroke-width="0.9"/>
<circle cx="590.7" cy="320.7" r="3.9" fill="#55b3bb" stroke="#fff" stroke-width="0.9"/>
<circle cx="604.3" cy="320.7" r="3.9" fill="#55b3bb" stroke="#fff" stroke-width="0.9"/>
<circle cx="645.3" cy="319.6" r="3.9" fill="#55b3bb" stroke="#fff" stroke-width="0.9"/>
<circle cx="659.0" cy="320.7" r="3.9" fill="#55b3bb" stroke="#fff" stroke-width="0.9"/>
<circle cx="672.7" cy="320.7" r="3.9" fill="#55b3bb" stroke="#fff" stroke-width="0.9"/>
<circle cx="686.3" cy="223.4" r="3.9" fill="#55b3bb" stroke="#fff" stroke-width="0.9"/>
<circle cx="700.0" cy="316.1" r="3.9" fill="#55b3bb" stroke="#fff" stroke-width="0.9"/>
<circle cx="741.0" cy="318.5" r="3.9" fill="#55b3bb" stroke="#fff" stroke-width="0.9"/>
<circle cx="754.7" cy="292.8" r="3.9" fill="#55b3bb" stroke="#fff" stroke-width="0.9"/>
<circle cx="768.3" cy="298.3" r="3.9" fill="#55b3bb" stroke="#fff" stroke-width="0.9"/>
<circle cx="782.0" cy="311.5" r="3.9" fill="#55b3bb" stroke="#fff" stroke-width="0.9"/>
<circle cx="795.7" cy="319.6" r="3.9" fill="#55b3bb" stroke="#fff" stroke-width="0.9"/>
<circle cx="836.7" cy="318.5" r="3.9" fill="#55b3bb" stroke="#fff" stroke-width="0.9"/>
<circle cx="850.3" cy="160.5" r="3.9" fill="#55b3bb" stroke="#fff" stroke-width="0.9"/>
<circle cx="864.0" cy="315.2" r="3.9" fill="#55b3bb" stroke="#fff" stroke-width="0.9"/>
<circle cx="877.7" cy="320.7" r="3.9" fill="#55b3bb" stroke="#fff" stroke-width="0.9"/>
<circle cx="891.3" cy="320.7" r="3.9" fill="#55b3bb" stroke="#fff" stroke-width="0.9"/>
<circle cx="932.3" cy="320.8" r="3.9" fill="#55b3bb" stroke="#fff" stroke-width="0.9"/>
<circle cx="946.0" cy="317.9" r="3.9" fill="#55b3bb" stroke="#fff" stroke-width="0.9"/>
<circle cx="959.7" cy="320.8" r="3.9" fill="#55b3bb" stroke="#fff" stroke-width="0.9"/>
<circle cx="973.3" cy="320.8" r="3.9" fill="#55b3bb" stroke="#fff" stroke-width="0.9"/>
<circle cx="987.0" cy="316.5" r="3.9" fill="#55b3bb" stroke="#fff" stroke-width="0.9"/>
<line x1="587.5" x2="609.5" y1="143.7" y2="143.7" stroke="#ffa126" stroke-width="1.25"/>
<circle cx="598.5" cy="143.7" r="3.4" fill="#ffa126" stroke="#fff" stroke-width="0.9"/>
<text x="612.3" y="149.9" font-family='"Noto Serif CJK SC","Liberation Serif",serif' font-weight="300" font-size="11.7" fill="#555">日持仓量</text>
<line x1="675.5" x2="697.5" y1="143.7" y2="143.7" stroke="#ffd04c" stroke-width="1.25"/>
<circle cx="686.5" cy="143.7" r="3.4" fill="#ffd04c" stroke="#fff" stroke-width="0.9"/>
<text x="700.0" y="149.9" font-family='"Noto Serif CJK SC","Liberation Serif",serif' font-weight="300" font-size="11.7" fill="#555">日认购持仓量</text>
<line x1="787.5" x2="809.5" y1="143.7" y2="143.7" stroke="#8abb76" stroke-width="1.25"/>
<circle cx="798.5" cy="143.7" r="3.4" fill="#8abb76" stroke="#fff" stroke-width="0.9"/>
<text x="811.2" y="149.9" font-family='"Noto Serif CJK SC","Liberation Serif",serif' font-weight="300" font-size="11.7" fill="#555">日认沽持仓量</text>
<line x1="898.5" x2="920.5" y1="143.7" y2="143.7" stroke="#55b3bb" stroke-width="1.25"/>
<circle cx="909.5" cy="143.7" r="3.4" fill="#55b3bb" stroke="#fff" stroke-width="0.9"/>
<text x="922.2" y="149.9" font-family='"Noto Serif CJK SC","Liberation Serif",serif' font-weight="300" font-size="11.7" fill="#555">日行权量</text>
<defs><radialGradient id="lg" cx="0.6" cy="0.25" r="0.9"><stop offset="0" stop-color="#ee4a14"/><stop offset="1" stop-color="#c8201c"/></radialGradient><linearGradient id="cl" x1="0" y1="0" x2="0" y2="1"><stop offset="0" stop-color="#ffe48a"/><stop offset="1" stop-color="#f3a21d"/></linearGradient></defs>
<circle cx="946.2" cy="571.7" r="22.8" fill="url(#lg)"/>
<g transform="translate(918,544) scale(0.09017)"><path d="M178 494 C230 480 290 440 318 392 C290 398 230 395 200 372 C170 345 160 300 175 262 C185 235 205 220 225 214 C225 185 250 155 290 150 C335 143 375 165 387 200 C430 200 465 235 470 285 C475 340 450 400 400 442 C350 482 270 508 180 503 Z" fill="url(#cl)"/><path d="M280 293 C297 268 337 270 350 302 C360 332 348 365 320 394" fill="none" stroke="#d63c1a" stroke-width="17" stroke-linecap="round"/><circle cx="284" cy="291" r="12" fill="#d63c1a"/></g>
<text x="973.6" y="578.6" font-family='"Noto Serif CJK SC","Liberation Serif",serif' font-weight="900" font-size="31" fill="#a3a3a3" textLength="93" lengthAdjust="spacingAndGlyphs">中金网</text>
<text x="975" y="593.2" font-family='"Liberation Sans",sans-serif' font-size="9.2" fill="#a9a9a9" textLength="89.5" lengthAdjust="spacing">CNGOLD.COM.CN</text>
<text x="926.5" y="607.5" font-family='"Noto Sans CJK SC",sans-serif' font-weight="300" font-size="11.5" fill="#a9a9a9" textLength="136" lengthAdjust="spacing">中文财经新媒体</text>
</svg>
<div class="c h" style="left:28.00px;top:428.00px;width:69.10px;height:46.80px"><span class="t">日期</span></div>
<div class="c v" style="left:28.00px;top:474.80px;width:69.10px;height:17.50px"><span class="t">2021/7/16</span></div>
<div class="c h" style="left:97.10px;top:428.00px;width:80.50px;height:46.80px"><span class="t">期权简称</span></div>
<div class="c v" style="left:97.10px;top:474.80px;width:80.50px;height:17.50px"><span class="t"><span style="font-size:13px">天然橡胶期权</span></span></div>
<div class="c h" style="left:177.60px;top:428.00px;width:72.20px;height:46.80px"><span class="t">日成交量</span></div>
<div class="c v" style="left:177.60px;top:474.80px;width:72.20px;height:17.50px"><span class="t">29059</span></div>
<div class="c h" style="left:249.80px;top:428.00px;width:77.80px;height:46.80px"><span class="t">日认购成交量</span></div>
<div class="c v" style="left:249.80px;top:474.80px;width:77.80px;height:17.50px"><span class="t">21804</span></div>
<div class="c h" style="left:327.60px;top:428.00px;width:86.00px;height:46.80px"><span class="t">日认沽成交量</span></div>
<div class="c v" style="left:327.60px;top:474.80px;width:86.00px;height:17.50px"><span class="t">7255</span></div>
<div class="c h" style="left:413.60px;top:428.00px;width:85.70px;height:46.80px"><span class="t">日认沽<span class="lt">/</span>认购<br>（交易量<br><span class="lt">PCR</span>）</span></div>
<div class="c v" style="left:413.60px;top:474.80px;width:85.70px;height:17.50px"><span class="t">33.27%</span></div>
<div class="c h l" style="left:499.30px;top:428.00px;width:78.20px;height:46.80px"><span class="t">成交额（万元）</span></div>
<div class="c v" style="left:499.30px;top:474.80px;width:78.20px;height:17.50px"><span class="t">8521.41</span></div>
<div class="c h" style="left:577.50px;top:428.00px;width:83.80px;height:46.80px"><span class="t">日持仓量</span></div>
<div class="c v" style="left:577.50px;top:474.80px;width:83.80px;height:17.50px"><span class="t">75894</span></div>
<div class="c h" style="left:661.30px;top:428.00px;width:83.00px;height:46.80px"><span class="t">日认购持仓量</span></div>
<div class="c v" style="left:661.30px;top:474.80px;width:83.00px;height:17.50px"><span class="t">58400</span></div>
<div class="c h" style="left:744.30px;top:428.00px;width:88.20px;height:46.80px"><span class="t">日认沽持仓量</span></div>
<div class="c v" style="left:744.30px;top:474.80px;width:88.20px;height:17.50px"><span class="t">17494</span></div>
<div class="c h" style="left:832.50px;top:428.00px;width:65.50px;height:46.80px"><span class="t">日行权量</span></div>
<div class="c v" style="left:832.50px;top:474.80px;width:65.50px;height:17.50px"><span class="t">4</span></div>
<div class="c h" style="left:898.00px;top:428.00px;width:68.30px;height:46.80px"><span class="t">标的收盘</span></div>
<div class="c v" style="left:898.00px;top:474.80px;width:68.30px;height:17.50px"><span class="t"><span style="padding-left:5px">13,570.00</span></span></div>
<div class="c h" style="left:966.30px;top:428.00px;width:53.10px;height:46.80px"><span class="t">涨幅<span class="pc">%</span></span></div>
<div class="c v" style="left:966.30px;top:474.80px;width:53.10px;height:17.50px"><span class="t">2.38%</span></div>
<div class="c h2 hd" style="left:28.00px;top:508.00px;width:69.10px;height:48.20px"><span class="t">数据变化</span></div>
<div class="c h2" style="left:97.10px;top:508.00px;width:80.50px;height:31.40px"><span class="t">成交量变化</span></div>
<div class="c v" style="left:97.10px;top:539.40px;width:80.50px;height:16.80px"><span class="t">8,113</span></div>
<div class="c h2" style="left:177.60px;top:508.00px;width:72.20px;height:31.40px"><span class="t">持仓量变化</span></div>
<div class="c v" style="left:177.60px;top:539.40px;width:72.20px;height:16.80px"><span class="t">-1,175</span></div>
<div class="c h2" style="left:249.80px;top:508.00px;width:77.80px;height:31.40px"><span class="t">交易量<span class="lt">PCR</span><br>变化</span></div>
<div class="c v" style="left:249.80px;top:539.40px;width:77.80px;height:16.80px"><span class="t">1.55%</span></div>
<div class="c h2" style="left:327.60px;top:508.00px;width:86.00px;height:31.40px"><span class="t">持仓量<span class="lt">PCR</span>变<br>化</span></div>
<div class="c v" style="left:327.60px;top:539.40px;width:86.00px;height:16.80px"><span class="t">0.36%</span></div>
<div class="c h2" style="left:413.60px;top:508.00px;width:85.70px;height:31.40px"><span class="t">历史波动率</span></div>
<div class="c v" style="left:413.60px;top:539.40px;width:85.70px;height:16.80px"><span class="t">25.17%</span></div>
<div class="c h2" style="left:499.30px;top:508.00px;width:162.00px;height:31.40px"><span class="t">波动率分位值<span class="lp">(</span>近一年<span class="lp">)</span></span></div>
<div class="c v pk" style="left:499.30px;top:539.40px;width:162.00px;height:16.80px"><span class="t">26.80%</span></div>
<div class="c h2" style="left:661.30px;top:508.00px;width:171.20px;height:31.40px"><span class="t">历史波动率较前日变化</span></div>
<div class="c v yl" style="left:661.30px;top:539.40px;width:171.20px;height:16.80px"><span class="t">0.9315%</span></div>
<svg class="cv" width="1080" height="621" viewBox="0 0 1080 621" style="pointer-events:none">
<line x1="28.0" y1="428.0" x2="28.0" y2="492.3" stroke="#000" stroke-width="1.9" stroke-linecap="square"/>
<line x1="97.1" y1="428.0" x2="97.1" y2="492.3" stroke="#000" stroke-width="1.4" stroke-linecap="square"/>
<line x1="177.6" y1="428.0" x2="177.6" y2="492.3" stroke="#000" stroke-width="1.4" stroke-linecap="square"/>
<line x1="249.8" y1="428.0" x2="249.8" y2="492.3" stroke="#000" stroke-width="1.4" stroke-linecap="square"/>
<line x1="327.6" y1="428.0" x2="327.6" y2="492.3" stroke="#000" stroke-width="1.4" stroke-linecap="square"/>
<line x1="413.6" y1="428.0" x2="413.6" y2="492.3" stroke="#000" stroke-width="1.4" stroke-linecap="square"/>
<line x1="499.3" y1="428.0" x2="499.3" y2="492.3" stroke="#000" stroke-width="1.4" stroke-linecap="square"/>
<line x1="577.5" y1="428.0" x2="577.5" y2="492.3" stroke="#000" stroke-width="1.4" stroke-linecap="square"/>
<line x1="661.3" y1="428.0" x2="661.3" y2="492.3" stroke="#000" stroke-width="1.4" stroke-linecap="square"/>
<line x1="744.3" y1="428.0" x2="744.3" y2="492.3" stroke="#000" stroke-width="1.4" stroke-linecap="square"/>
<line x1="832.5" y1="428.0" x2="832.5" y2="492.3" stroke="#000" stroke-width="1.4" stroke-linecap="square"/>
<line x1="898.0" y1="428.0" x2="898.0" y2="492.3" stroke="#000" stroke-width="1.4" stroke-linecap="square"/>
<line x1="966.3" y1="428.0" x2="966.3" y2="492.3" stroke="#000" stroke-width="1.4" stroke-linecap="square"/>
<line x1="1019.4" y1="428.0" x2="1019.4" y2="492.3" stroke="#000" stroke-width="1.9" stroke-linecap="square"/>
<line x1="28.0" y1="428.0" x2="1019.4" y2="428.0" stroke="#000" stroke-width="1.9" stroke-linecap="square"/>
<line x1="28.0" y1="474.8" x2="1019.4" y2="474.8" stroke="#000" stroke-width="1.7" stroke-linecap="square"/>
<line x1="28.0" y1="492.3" x2="1019.4" y2="492.3" stroke="#000" stroke-width="1.4" stroke-linecap="square"/>
<line x1="28.0" y1="508.0" x2="28.0" y2="556.2" stroke="#000" stroke-width="1.9" stroke-linecap="square"/>
<line x1="97.1" y1="508.0" x2="97.1" y2="556.2" stroke="#000" stroke-width="1.4" stroke-linecap="square"/>
<line x1="177.6" y1="508.0" x2="177.6" y2="556.2" stroke="#000" stroke-width="1.4" stroke-linecap="square"/>
<line x1="249.8" y1="508.0" x2="249.8" y2="556.2" stroke="#000" stroke-width="1.4" stroke-linecap="square"/>
<line x1="327.6" y1="508.0" x2="327.6" y2="556.2" stroke="#000" stroke-width="1.4" stroke-linecap="square"/>
<line x1="413.6" y1="508.0" x2="413.6" y2="556.2" stroke="#000" stroke-width="1.4" stroke-linecap="square"/>
<line x1="499.3" y1="508.0" x2="499.3" y2="556.2" stroke="#000" stroke-width="1.4" stroke-linecap="square"/>
<line x1="661.3" y1="508.0" x2="661.3" y2="556.2" stroke="#000" stroke-width="1.4" stroke-linecap="square"/>
<line x1="832.5" y1="508.0" x2="832.5" y2="556.2" stroke="#000" stroke-width="1.9" stroke-linecap="square"/>
<line x1="28.0" y1="508.0" x2="832.5" y2="508.0" stroke="#000" stroke-width="1.9" stroke-linecap="square"/>
<line x1="97.1" y1="539.4" x2="832.5" y2="539.4" stroke="#000" stroke-width="1.4" stroke-linecap="square"/>
<line x1="28.0" y1="556.2" x2="832.5" y2="556.2" stroke="#000" stroke-width="1.4" stroke-linecap="square"/>
</svg>
</body></html>
